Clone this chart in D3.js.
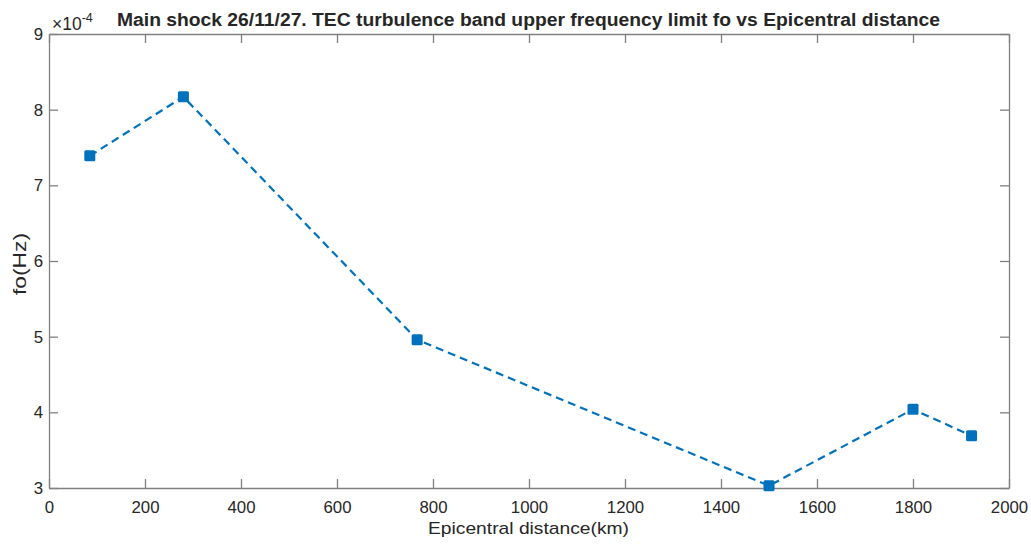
<!DOCTYPE html>
<html>
<head>
<meta charset="utf-8">
<script src="https://cdn.jsdelivr.net/npm/d3@7"></script>
<style>
  body { margin: 0; background: #fff; }
  svg text { font-family: "Liberation Sans", Arial, Helvetica, sans-serif; fill: #262626; }
</style>
</head>
<body>
<div id="chart"></div>
<script>
// ── Data (fo in units of 1e-4 Hz) ───────────────────────────────────────────
const distance = [85, 280, 767, 1500, 1800, 1922];
const fo       = [7.39, 8.17, 4.96, 3.03, 4.04, 3.69];
const xTicks   = [0, 200, 400, 600, 800, 1000, 1200, 1400, 1600, 1800, 2000];
const yTicks   = [3, 4, 5, 6, 7, 8, 9];

const W = 1031, H = 546;
const M = { top: 34, right: 22, bottom: 58, left: 49 };
const iw = W - M.left - M.right;
const ih = H - M.top - M.bottom;
const AX = '#808080';
const BLUE = '#0072BD';

const svg = d3.select('#chart').append('svg').attr('width', W).attr('height', H);
const g = svg.append('g').attr('transform', `translate(${M.left},${M.top})`);

const x = d3.scaleLinear().domain([0, 2000]).range([0, iw]);
const y = d3.scaleLinear().domain([3, 9]).range([ih, 0]);
const fmt = d3.format('d');

// ── Axes (box with inward ticks on all sides) ──────────────────────────────
const styleAxis = a => {
  a.select('.domain').attr('stroke', AX).attr('stroke-width', 1.3);
  a.selectAll('.tick line').attr('stroke', AX).attr('stroke-width', 1.3);
  a.selectAll('.tick text').attr('font-size', 16.8).attr('fill', '#262626');
};
g.append('g').attr('transform', `translate(0,${ih})`)
  .call(d3.axisBottom(x).tickValues(xTicks).tickFormat(fmt).tickSizeInner(-9).tickSizeOuter(0).tickPadding(13))
  .call(styleAxis);
g.append('g')
  .call(d3.axisTop(x).tickValues(xTicks).tickSizeInner(-9).tickSizeOuter(0).tickFormat(''))
  .call(styleAxis);
g.append('g')
  .call(d3.axisLeft(y).tickValues(yTicks).tickFormat(fmt).tickSizeInner(-9).tickSizeOuter(0).tickPadding(6))
  .call(styleAxis);
g.append('g').attr('transform', `translate(${iw},0)`)
  .call(d3.axisRight(y).tickValues(yTicks).tickSizeInner(-9).tickSizeOuter(0).tickFormat(''))
  .call(styleAxis);

// ── Exponent label ─────────────────────────────────────────────────────────
const ex = g.append('text').attr('x', 3).attr('y', -4).attr('font-size', 17.5);
ex.append('tspan').text('×10');
ex.append('tspan').attr('dy', -8).attr('font-size', 12.5).text('-4');

// ── Line + markers ────────────────────────────────────────────────────────
const pts = distance.map((d, i) => ({ d, v: fo[i] }));
g.append('path').datum(pts)
  .attr('fill', 'none').attr('stroke', BLUE).attr('stroke-width', 2.2)
  .attr('stroke-dasharray', '8,5')
  .attr('d', d3.line().x(p => x(p.d)).y(p => y(p.v)));

const ms = 11;
g.selectAll('.mk').data(pts).join('rect')
  .attr('class', 'mk')
  .attr('x', p => x(p.d) - ms / 2).attr('y', p => y(p.v) - ms / 2)
  .attr('width', ms).attr('height', ms).attr('rx', 1.5)
  .attr('fill', BLUE);

// ── Labels ───────────────────────────────────────────────────────────────
svg.append('text')
  .attr('x', 117).attr('y', 26)
  .attr('font-size', 17.5).attr('font-weight', 'bold')
  .attr('textLength', 823).attr('lengthAdjust', 'spacingAndGlyphs')
  .attr('fill', '#000')
  .text('Main shock 26/11/27. TEC turbulence band upper frequency limit fo vs Epicentral distance');

svg.append('text')
  .attr('x', 428).attr('y', 534)
  .attr('font-size', 17)
  .attr('textLength', 201).attr('lengthAdjust', 'spacingAndGlyphs')
  .text('Epicentral distance(km)');

svg.append('text')
  .attr('transform', `translate(26,295) rotate(-90)`)
  .attr('font-size', 17.5)
  .attr('textLength', 62).attr('lengthAdjust', 'spacingAndGlyphs')
  .text('fo(Hz)');
</script>
</body>
</html>
